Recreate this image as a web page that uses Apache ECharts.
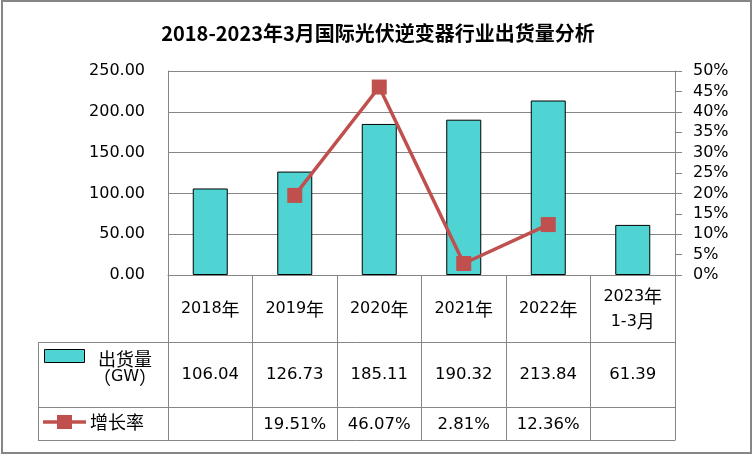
<!DOCTYPE html>
<html><head><meta charset="utf-8">
<script src="https://cdn.jsdelivr.net/npm/echarts@6/dist/echarts.min.js"></script>
<style>html,body{margin:0;padding:0;background:#fff}#c{width:756px;height:456px}</style>
</head><body><div id="c"></div>
<script>
// ---- data ----
const chartTitle = '2018-2023年3月国际光伏逆变器行业出货量分析';
const categories = ['2018年', '2019年', '2020年', '2021年', '2022年', '2023年\n1-3月'];
const shipments = [106.04, 126.73, 185.11, 190.32, 213.84, 61.39];
const growth = [null, 19.51, 46.07, 2.81, 12.36, null];
const shipmentLegend = ['出货量', '（GW）'];
const growthLegend = '增长率';
const leftAxis = { min: 0, max: 250, interval: 50 };
const rightAxis = { min: 0, max: 50, interval: 5 };

// ---- style ----
const GRAY = '#868686';
const BAR = '#4fd3d3';
const LINE = '#c0504d';
const NUM_FONT = '"DejaVu Sans", "Noto Sans CJK SC", sans-serif';
const CJK_FONT = '"Noto Sans CJK SC", sans-serif';
const rich = {
  n: { fontFamily: NUM_FONT, fontSize: 16, color: '#000', lineHeight: 25 },
  c: { fontFamily: CJK_FONT, fontSize: 18, color: '#000', lineHeight: 25 }
};
function tag(s) {
  return s.split('\n').map(line => line.replace(/([\u3000-\u9fff\uff00-\uffef]+)|([^\u3000-\u9fff\uff00-\uffef]+)/g,
    (m, c, n) => c ? '{c|' + c + '}' : '{n|' + n + '}')).join('\n');
}

const G = { left: 168, top: 71, width: 507, height: 204 };
const TABLE = { x0: 38, row1: 342, row2: 407, row3: 440 };

const chart = echarts.init(document.getElementById('c'));
chart.setOption({
  animation: false,
  backgroundColor: '#fff',
  title: {
    text: chartTitle, left: 'center', top: 21, padding: 0,
    textStyle: { fontFamily: CJK_FONT, fontWeight: 'bold', fontSize: 20, color: '#000', lineHeight: 24 }
  },
  grid: { left: G.left, top: G.top, width: G.width, height: G.height, containLabel: false },
  xAxis: {
    type: 'category', data: categories, boundaryGap: true,
    axisLine: { lineStyle: { color: GRAY, width: 1 } },
    axisTick: { show: true, length: TABLE.row3 - G.top - G.height, lineStyle: { color: GRAY, width: 1 } },
    axisLabel: { interval: 0, margin: 34, verticalAlign: 'middle', formatter: v => tag(v), rich: rich }
  },
  yAxis: [
    {
      type: 'value', min: leftAxis.min, max: leftAxis.max, interval: leftAxis.interval,
      axisLine: { show: true, lineStyle: { color: GRAY } },
      axisTick: { show: false },
      splitLine: { show: true, lineStyle: { color: GRAY, width: 1 } },
      axisLabel: { margin: 23, formatter: v => v.toFixed(2), fontFamily: NUM_FONT, fontSize: 16, color: '#000' }
    },
    {
      type: 'value', min: rightAxis.min, max: rightAxis.max, interval: rightAxis.interval, position: 'right',
      axisLine: { show: true, lineStyle: { color: GRAY } },
      axisTick: { show: true, length: 7, inside: false, lineStyle: { color: GRAY } },
      splitLine: { show: false },
      axisLabel: { margin: 18, formatter: v => v + '%', fontFamily: NUM_FONT, fontSize: 16, color: '#000' }
    }
  ],
  series: [
    {
      name: shipmentLegend.join(''), type: 'bar', data: shipments, barWidth: 35, yAxisIndex: 0,
      itemStyle: { color: BAR, borderColor: '#000', borderWidth: 1 }
    },
    {
      name: growthLegend, type: 'line', data: growth, yAxisIndex: 1, connectNulls: false,
      symbol: 'rect', symbolSize: 15, z: 5,
      lineStyle: { color: LINE, width: 3.5 }, itemStyle: { color: LINE }
    }
  ]
});

// ---- data table (positions from the category axis) ----
const xR = G.left + G.width;
const cx = categories.map((c, i) => chart.convertToPixel({ xAxisIndex: 0 }, i));
const graphics = [];
const line = (x1, y1, x2, y2) => graphics.push({ type: 'line', silent: true, z: 10,
  shape: { x1, y1, x2, y2 }, style: { stroke: GRAY, lineWidth: 1 } });
[TABLE.row1, TABLE.row2, TABLE.row3].forEach(y => line(TABLE.x0, y + 0.5, xR + 0.5, y + 0.5));
line(TABLE.x0 + 0.5, TABLE.row1, TABLE.x0 + 0.5, TABLE.row3 + 0.5);
const yVal = (TABLE.row1 + TABLE.row2) / 2 + 0.5;
const yGro = (TABLE.row2 + TABLE.row3) / 2 + 1;
shipments.forEach((v, i) => graphics.push({ type: 'text', silent: true, z: 10, x: cx[i], y: yVal,
  style: { text: v.toFixed(2), font: '16.5px ' + NUM_FONT, fill: '#000', align: 'center', verticalAlign: 'middle' } }));
growth.forEach((v, i) => { if (v != null) graphics.push({ type: 'text', silent: true, z: 10, x: cx[i], y: yGro,
  style: { text: v.toFixed(2) + '%', font: '16.5px ' + NUM_FONT, fill: '#000', align: 'center', verticalAlign: 'middle' } }); });
// legend keys
graphics.push({ type: 'rect', silent: true, z: 10, shape: { x: 44.5, y: 349.5, width: 40, height: 13 },
  style: { fill: BAR, stroke: '#000', lineWidth: 1 } });
graphics.push({ type: 'text', silent: true, z: 10, x: 125, y: 368,
  style: { text: shipmentLegend.map(tag).join('\n'), rich: { n: Object.assign({}, rich.n, { lineHeight: 18 }), c: Object.assign({}, rich.c, { lineHeight: 18 }) },
    align: 'center', verticalAlign: 'middle' } });
graphics.push({ type: 'line', silent: true, z: 10, shape: { x1: 43, y1: 422, x2: 86, y2: 422 },
  style: { stroke: LINE, lineWidth: 3.5 } });
graphics.push({ type: 'rect', silent: true, z: 11, shape: { x: 57, y: 415, width: 15, height: 14 },
  style: { fill: LINE } });
graphics.push({ type: 'text', silent: true, z: 10, x: 90, y: 422,
  style: { text: growthLegend, font: '18px ' + CJK_FONT, fill: '#000', align: 'left', verticalAlign: 'middle' } });
// outer frame
graphics.push({ type: 'rect', silent: true, z: 20, shape: { x: 2, y: 1, width: 749, height: 452 },
  style: { fill: 'none', stroke: GRAY, lineWidth: 2 } });
chart.setOption({ graphic: graphics });
</script></body></html>
